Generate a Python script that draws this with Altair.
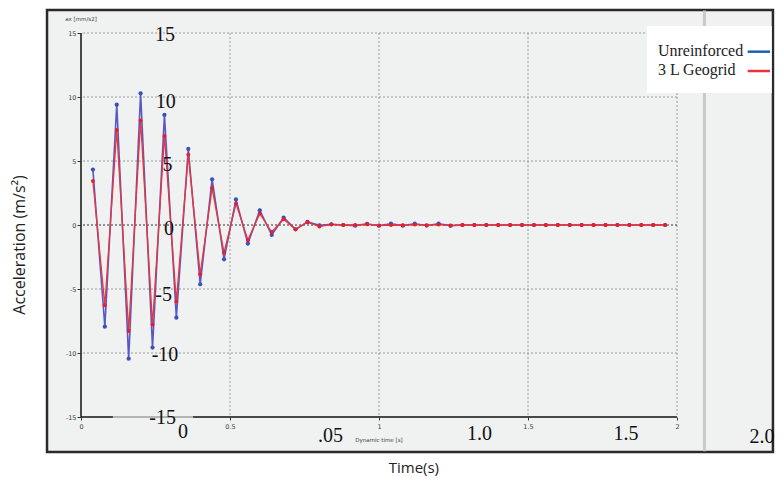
import altair as alt
import pandas as pd

# ---- data ----
time_s = [0.04, 0.08, 0.12, 0.16, 0.20, 0.24, 0.28, 0.32, 0.36, 0.40,
          0.44, 0.48, 0.52, 0.56, 0.60, 0.64, 0.68, 0.72, 0.76, 0.80,
          0.84, 0.88, 0.92, 0.96, 1.00, 1.04, 1.08, 1.12, 1.16, 1.20,
          1.24, 1.28, 1.32, 1.36, 1.40, 1.44, 1.48, 1.52, 1.56, 1.60,
          1.64, 1.68, 1.72, 1.76, 1.80, 1.84, 1.88, 1.92, 1.96]
unreinforced = [4.33, -7.94, 9.40, -10.44, 10.29, -9.58, 8.60, -7.24, 5.94, -4.63,
                3.57, -2.68, 2.00, -1.45, 1.15, -0.78, 0.58, -0.34, 0.24, -0.02,
                0.05, 0.00, -0.05, 0.08, -0.05, 0.10, -0.05, 0.10, -0.04, 0.10,
                -0.05, 0.0, 0.0, 0.0, 0.0, 0.0, 0.0, 0.0, 0.0, 0.0,
                0.0, 0.0, 0.0, 0.0, 0.0, 0.0, 0.0, 0.0, 0.0]
geogrid = [3.44, -6.27, 7.42, -8.28, 8.16, -7.78, 6.95, -5.99, 5.50, -3.85,
           2.89, -2.16, 1.67, -1.17, 0.89, -0.55, 0.45, -0.34, 0.22, -0.12,
           0.05, 0.00, 0.00, 0.06, -0.05, 0.00, -0.02, 0.03, -0.02, 0.03,
           -0.05, 0.0, 0.0, 0.0, 0.0, 0.0, 0.0, 0.0, 0.0, 0.0,
           0.0, 0.0, 0.0, 0.0, 0.0, 0.0, 0.0, 0.0, 0.0]

x_ticks = [0, 0.5, 1, 1.5, 2]
y_ticks = [-15, -10, -5, 0, 5, 10, 15]
grid_x = [0.5, 1, 1.5, 2]
grid_y = [-10, -5, 5, 10, 15]
series_names = ["Unreinforced", "3 L Geogrid"]
overlay_labels = ["15", "10", "5", "0", "-5", "-10", "-15", "0", ".05", "1.0", "1.5", "2.0"]

# ---- annotation layout (data coordinates) ----
overlay_x = [0.282, 0.284, 0.290, 0.295, 0.277, 0.282, 0.274, 0.342, 0.837, 1.337, 1.829, 2.285]
overlay_y = [14.84, 9.61, 4.69, -0.31, -5.47, -10.16, -15.08, -16.17, -16.48, -16.33, -16.33, -16.56]

BLUE_LINE, BLUE_DOT = "#5a58c6", "#3c50b8"
RED_LINE, RED_DOT = "#ee3434", "#e61f2b"
BG = "#f0f1f1"

xs = alt.Scale(domain=[0, 2], nice=False, zero=False)
ys = alt.Scale(domain=[-15, 15], nice=False, zero=False)
xax = alt.Axis(values=x_ticks, labelExpr="datum.value + ''", grid=False, domain=False,
               tickSize=3, tickColor="#333", labelFontSize=6.5, labelColor="#444",
               labelFont="DejaVu Sans", labelPadding=3, title=None, zindex=1,
               labelFlush=False)
yax = alt.Axis(values=y_ticks, labelExpr="datum.value + ''", grid=False, domain=False,
               tickSize=4, tickColor="#333", labelFontSize=6.5, labelColor="#444",
               labelFont="DejaVu Sans", labelPadding=1, title=None, zindex=1)


def X(f):
    return alt.X(f, type="quantitative", scale=xs, axis=xax)


def Y(f):
    return alt.Y(f, type="quantitative", scale=ys, axis=yax)


# outer screenshot box
box = pd.DataFrame({"x": [-0.114], "x2": [2.322], "y": [16.8], "y2": [-17.73]})
box_layer = alt.Chart(box).mark_rect(fill=BG, stroke="#2a2a2a", strokeWidth=2.5).encode(
    x=X("x"), x2="x2", y=Y("y"), y2="y2")

sep = pd.DataFrame({"x": [2.092], "y": [16.75], "y2": [-17.68]})
sep_layer = alt.Chart(sep).mark_rule(color="#c9c9c9", strokeWidth=3).encode(
    x=X("x"), y=Y("y"), y2="y2")

gx = alt.Chart(pd.DataFrame({"g": grid_x})).mark_rule(
    color="#9a9a9a", strokeDash=[2, 2], strokeWidth=1).encode(x=X("g"))
gy = alt.Chart(pd.DataFrame({"g": grid_y})).mark_rule(
    color="#9a9a9a", strokeDash=[2, 2], strokeWidth=1).encode(y=Y("g"))
g0 = alt.Chart(pd.DataFrame({"g": [0]})).mark_rule(
    color="#333333", strokeDash=[2, 2], strokeWidth=1).encode(y=Y("g"))

dom = pd.DataFrame({"x": [0, 0], "x2": [0, 2], "y": [-15, -15], "y2": [15, -15]})
dom_layer = alt.Chart(dom).mark_rule(color="#111", strokeWidth=1.5).encode(
    x=X("x"), x2="x2", y=Y("y"), y2="y2")

patch = pd.DataFrame({"x": [0.107], "x2": [0.376], "y": [-15.0]})
patch_layer = alt.Chart(patch).mark_rule(color="#b4b4b4", strokeWidth=2).encode(
    x=X("x"), x2="x2", y=Y("y"))

df = pd.DataFrame({
    "t": time_s * 2,
    "a": unreinforced + geogrid,
    "s": [series_names[0]] * len(time_s) + [series_names[1]] * len(time_s),
})
blue = alt.Chart(df).transform_filter(alt.datum.s == series_names[0])
red = alt.Chart(df).transform_filter(alt.datum.s == series_names[1])
blue_line = blue.mark_line(color=BLUE_LINE, strokeWidth=1.6).encode(x=X("t"), y=Y("a"))
blue_pts = blue.mark_circle(color=BLUE_DOT, size=18, opacity=1).encode(x=X("t"), y=Y("a"))
red_line = red.mark_line(color=RED_LINE, strokeWidth=1.3).encode(x=X("t"), y=Y("a"))
red_pts = red.mark_circle(color=RED_DOT, size=15, opacity=1).encode(x=X("t"), y=Y("a"))

# legend box
leg = pd.DataFrame({"x": [1.899], "x2": [2.318], "y": [15.55], "y2": [10.31]})
leg_box = alt.Chart(leg).mark_rect(fill="white").encode(x=X("x"), x2="x2", y=Y("y"), y2="y2")
leg_txt = alt.Chart(pd.DataFrame({"x": [1.936, 1.936], "y": [13.23, 11.74],
                                  "label": series_names})).mark_text(
    align="left", baseline="alphabetic", font="Liberation Serif", fontSize=16,
    color="#222").encode(x=X("x"), y=Y("y"), text="label:N")
leg_lines = alt.Chart(pd.DataFrame({"x": [2.237, 2.237], "x2": [2.312, 2.312],
                                    "y": [13.54, 12.03], "s": series_names})).mark_rule(
    strokeWidth=2.5).encode(x=X("x"), x2="x2", y=Y("y"),
                            color=alt.Color("s:N", scale=alt.Scale(domain=series_names,
                                                                   range=["#1f5fb0", "#e8343c"]),
                                            legend=None))

over = pd.DataFrame({"x": overlay_x, "y": overlay_y, "label": overlay_labels})
over_layer = alt.Chart(over).mark_text(font="Liberation Serif", fontSize=20, color="#111",
                                       align="center", baseline="middle").encode(
    x=X("x"), y=Y("y"), text="label:N")

small = pd.DataFrame({"x": [0.0, 1.0], "y": [16.09, -16.8],
                      "label": ["ax [mm/s2]", "Dynamic time [s]"]})
small_layer = alt.Chart(small).mark_text(font="DejaVu Sans", fontSize=5.5, color="#444",
                                         align="center", baseline="middle").encode(
    x=X("x"), y=Y("y"), text="label:N")

ytitle = alt.Chart(pd.DataFrame({"x": [-0.205], "y": [-1.56], "label": ["Acceleration (m/s²)"]})).mark_text(
    font="Open Sans", fontSize=16, color="#222", angle=270, align="center", baseline="middle").encode(
    x=X("x"), y=Y("y"), text="label:N")
xtitle = alt.Chart(pd.DataFrame({"x": [1.117], "y": [-18.95], "label": ["Time(s)"]})).mark_text(
    font="Open Sans", fontSize=15, color="#222", align="center", baseline="middle").encode(
    x=X("x"), y=Y("y"), text="label:N")

chart = alt.layer(
    box_layer, sep_layer, gx, gy, g0, dom_layer, patch_layer,
    blue_line, blue_pts, red_line, red_pts,
    leg_box, leg_txt, leg_lines, over_layer, small_layer, ytitle, xtitle,
).properties(
    width=596, height=384,
    autosize=alt.AutoSizeParams(type="none"),
    padding={"left": 73, "top": 25, "right": 99, "bottom": 60},
    background="white",
).configure_view(stroke=None)

chart.save("out.html", embed_options={"renderer": "svg", "actions": False})
